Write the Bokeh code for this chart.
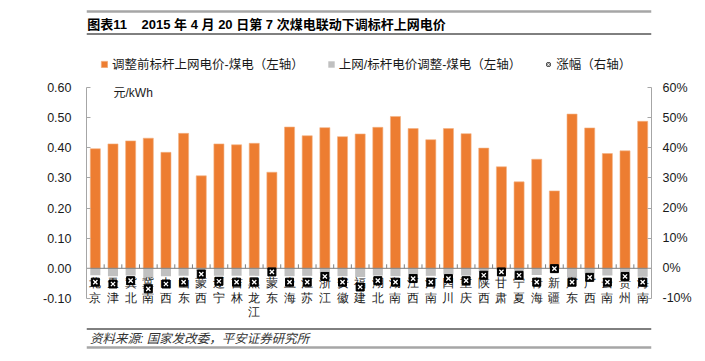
from math import pi
from bokeh.plotting import figure
from bokeh.models import (Range1d, FactorRange, LinearAxis, NumeralTickFormatter,
                          FixedTicker, Span, Label, Legend, LegendItem)
from bokeh.layouts import column
from bokeh.embed import file_html
from bokeh.resources import INLINE

# ---------------- data ----------------
provinces = ["北京", "天津", "冀北", "冀南", "山西", "山东", "蒙西", "辽宁", "吉林", "黑龙江",
             "蒙东", "上海", "江苏", "浙江", "安徽", "福建", "湖北", "湖南", "江西", "河南",
             "四川", "重庆", "陕西", "甘肃", "宁夏", "青海", "新疆", "广东", "广西", "云南",
             "贵州", "海南"]
price_before = [0.397, 0.413, 0.423, 0.432, 0.385, 0.448, 0.307, 0.413, 0.410, 0.415,
                0.319, 0.469, 0.440, 0.467, 0.437, 0.446, 0.468, 0.504, 0.464, 0.427,
                0.464, 0.447, 0.399, 0.337, 0.287, 0.362, 0.257, 0.512, 0.466, 0.381,
                0.390, 0.488]
price_adjust = [-0.023, -0.026, -0.024, -0.032, -0.026, -0.025, -0.008, -0.025, -0.025, -0.025,
                -0.005, -0.026, -0.025, -0.016, -0.026, -0.029, -0.024, -0.026, -0.022, -0.025,
                -0.021, -0.024, -0.012, -0.005, -0.008, -0.022, -0.001, -0.031, -0.018, -0.024,
                -0.014, -0.028]
change_pct = [-0.046, -0.052, -0.041, -0.068, -0.052, -0.046, -0.019, -0.043, -0.046, -0.046,
              -0.012, -0.046, -0.046, -0.027, -0.046, -0.062, -0.041, -0.046, -0.034, -0.046,
              -0.034, -0.041, -0.023, -0.012, -0.023, -0.046, -0.001, -0.046, -0.030, -0.046,
              -0.027, -0.046]
left_ticks = [-0.1, 0.0, 0.1, 0.2, 0.3, 0.4, 0.5, 0.6]
right_ticks = [-0.1, 0.0, 0.1, 0.2, 0.3, 0.4, 0.5, 0.6]

title_text = "图表11\u00a0\u00a0\u00a0\u00a02015 年 4 月 20 日第 7 次煤电联动下调标杆上网电价"
source_text = "资料来源: 国家发改委，平安证券研究所"
unit_text = "元/kWh"
legend_labels = ["调整前标杆上网电价-煤电（左轴）", "上网/标杆电价调整-煤电（左轴）", "涨幅（右轴）"]

FONT = "Liberation Sans, Noto Sans CJK SC"
W = 700

# ---------------- header ----------------
hdr = figure(width=W, height=47, x_range=Range1d(0, W - 26), y_range=Range1d(47, 0),
             x_axis_type=None, y_axis_type=None, toolbar_location=None,
             output_backend="svg", min_border_left=26, min_border_right=0,
             min_border_top=0, min_border_bottom=0, outline_line_color=None)
hdr.add_layout(Span(location=11, dimension="width", line_color="#A6A6A6", line_width=2.5))
hdr.add_layout(Span(location=33.5, dimension="width", line_color="#000000", line_width=1))
hdr.add_layout(Label(x=1, y=24, text=title_text, text_font=FONT, text_font_size="13px",
                     text_font_style="bold", text_color="#000000", text_baseline="middle"))

# ---------------- main chart ----------------
PX = 300.7  # pixels per unit on the value axes
y_lo = -0.1 - 24 / PX
y_hi = 0.6 + 32 / PX
p = figure(width=W, height=275, x_range=FactorRange(factors=provinces),
           y_range=Range1d(y_lo, y_hi), toolbar_location=None, output_backend="svg",
           x_axis_location=None,
           min_border_left=86, min_border_right=W - 651, min_border_top=8, min_border_bottom=0,
           outline_line_color=None)
p.extra_y_ranges = {"pct": Range1d(y_lo, y_hi)}
p.grid.visible = False

r_or = p.vbar(x=provinces, top=price_before, width=0.57, fill_color="#ED7D31",
              line_color="#F4B183", line_width=0.6)
r_gr = p.vbar(x=provinces, top=price_adjust, bottom=0, width=0.57, fill_color="#C0C0C0",
              line_color=None)

p.segment(x0=0, x1=len(provinces), y0=0, y1=0, line_color="#7F7F7F", line_width=1)
p.ray(x=list(range(len(provinces) + 1)), y=0, length=4, length_units="screen",
      angle=pi / 2, line_color="#7F7F7F", line_width=1)

# category labels, one character per line
max_len = max(len(c) for c in provinces)
for k in range(max_len):
    p.text(x=provinces, y=0, text=[c[k] if len(c) > k else "" for c in provinces],
           y_offset=8 + 14.3 * k, text_align="center", text_baseline="top",
           text_font=FONT, text_font_size="12px", text_color="#1a1a1a")

r_sq = p.scatter(x=provinces, y=change_pct, y_range_name="pct", marker="square", size=8,
                 fill_color="#000000", line_color="#000000")
r_x = p.scatter(x=provinces, y=change_pct, y_range_name="pct", marker="x", size=6,
                line_color="#FFFFFF", line_width=1.3)

# value axes
ya = p.yaxis[0]
ya.ticker = FixedTicker(ticks=left_ticks)
ya.formatter = NumeralTickFormatter(format="0.00")
ra = LinearAxis(y_range_name="pct", ticker=FixedTicker(ticks=right_ticks),
                formatter=NumeralTickFormatter(format="0%"))
p.add_layout(ra, "right")
for ax, so in ((ya, 15), (ra, 11)):
    ax.bounds = (left_ticks[0], left_ticks[-1])
    ax.axis_line_color = "#A6A6A6"
    ax.major_tick_line_color = "#A6A6A6"
    ax.major_tick_in = 4
    ax.major_tick_out = 0
    ax.minor_tick_line_color = None
    ax.major_label_standoff = so
    ax.major_label_text_font = FONT
    ax.major_label_text_font_size = "12.5px"
    ax.major_label_text_color = "#1a1a1a"

p.add_layout(Label(x=27, y=230, x_units="screen", y_units="screen", text=unit_text,
                   text_font=FONT, text_font_size="12px", text_color="#1a1a1a",
                   text_baseline="middle"))

legend = Legend(items=[LegendItem(label=legend_labels[0], renderers=[r_or]),
                       LegendItem(label=legend_labels[1], renderers=[r_gr]),
                       LegendItem(label=legend_labels[2], renderers=[r_sq, r_x])],
                orientation="horizontal", location=(14, 249), glyph_width=8, glyph_height=8,
                label_height=14, label_text_font=FONT, label_text_font_size="12.5px",
                label_text_color="#1a1a1a", spacing=23, padding=0, margin=0,
                border_line_color=None, background_fill_alpha=0, label_standoff=4)
p.add_layout(legend)

# ---------------- footer ----------------
ftr = figure(width=W, height=32, x_range=Range1d(0, W - 33), y_range=Range1d(32, 0),
             x_axis_type=None, y_axis_type=None, toolbar_location=None,
             output_backend="svg", min_border_left=33, min_border_right=0,
             min_border_top=0, min_border_bottom=0, outline_line_color=None)
ftr.add_layout(Span(location=6.5, dimension="width", line_color="#000000", line_width=1))
ftr.add_layout(Span(location=25, dimension="width", line_color="#A6A6A6", line_width=2.5))
ftr.add_layout(Label(x=4, y=16, text=source_text, text_font=FONT, text_font_size="12.5px",
                     text_font_style="italic", text_color="#333333", text_baseline="middle"))

layout = column(hdr, p, ftr, spacing=0)
open("out.html", "w").write(file_html(layout, INLINE))
